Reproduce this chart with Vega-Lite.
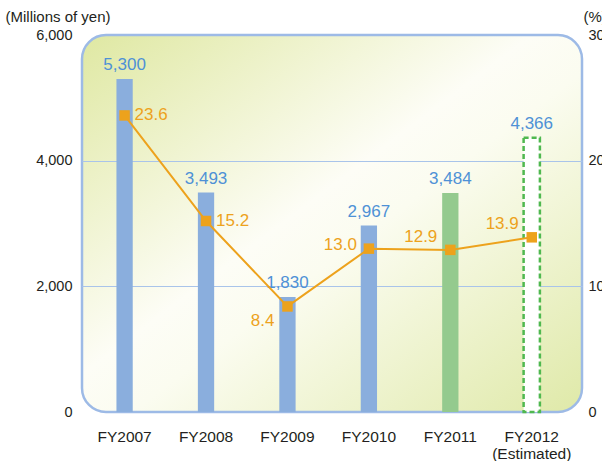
{
  "$schema": "https://vega.github.io/schema/vega-lite/v6.json",
  "width": 500,
  "height": 377,
  "autosize": "none",
  "padding": {"left": 82, "top": 35, "right": 20, "bottom": 49},
  "background": "white",
  "config": {
    "font": "Liberation Sans",
    "view": {
      "fill": {"gradient": "linear", "x1": 0, "y1": 0, "x2": 1, "y2": 1,
        "stops": [
          {"offset": 0, "color": "#dfe8a2"},
          {"offset": 0.45, "color": "#fdfdf6"},
          {"offset": 0.55, "color": "#fbfcf0"},
          {"offset": 1, "color": "#dfe9a8"}
        ]},
      "stroke": "#9dbae6",
      "strokeWidth": 2.5,
      "cornerRadius": 24
    },
    "axis": {"labelFont": "Liberation Sans", "titleFont": "Liberation Sans", "labelColor": "#231f20", "titleColor": "#231f20"}
  },
  "data": {"values": [
    {"year": "FY2007", "sales": 5300, "kind": "actual", "pct": 23.6},
    {"year": "FY2008", "sales": 3493, "kind": "actual", "pct": 15.2},
    {"year": "FY2009", "sales": 1830, "kind": "actual", "pct": 8.4},
    {"year": "FY2010", "sales": 2967, "kind": "actual", "pct": 13.0},
    {"year": "FY2011", "sales": 3484, "kind": "current", "pct": 12.9},
    {"year": "FY2012", "sales": 4366, "kind": "estimated", "pct": 13.9}
  ]},
  "encoding": {
    "x": {"field": "year", "type": "nominal", "sort": null,
      "scale": {"paddingInner": 0.8, "paddingOuter": 0.47, "align": 0.45},
      "axis": {"title": null, "domain": false, "ticks": false, "labelAngle": 0, "labelFontSize": 15.5, "labelPadding": 17, "labelLineHeight": 17,
        "labelExpr": "datum.value == 'FY2012' ? ['FY2012', '(Estimated)'] : datum.value"}}
  },
  "layer": [
    {
      "layer": [
        {
          "transform": [{"filter": "datum.kind != 'estimated'"}],
          "mark": {"type": "bar"},
          "encoding": {
            "y": {"field": "sales", "type": "quantitative",
              "scale": {"domain": [0, 6000]},
              "axis": {"values": [0, 2000, 4000, 6000], "labelExpr": "format(datum.value, ',')", "title": "(Millions of yen)", "titleAngle": 0, "titleAlign": "left", "titleBaseline": "middle", "titleX": -77, "titleY": -19, "titleFontSize": 15, "titleFontWeight": "normal",
                "domain": false, "ticks": false, "labelFontSize": 14.5, "labelPadding": 10,
                "grid": true, "gridColor": "#a9c4ea", "gridWidth": 1.2,
                "gridOpacity": {"condition": {"test": "datum.value == 2000 || datum.value == 4000", "value": 1}, "value": 0}}},
            "color": {"field": "kind", "type": "nominal", "scale": {"domain": ["actual", "current"], "range": ["#8aaedd", "#94ca8e"]}, "legend": null}
          }
        },
        {
          "transform": [{"filter": "datum.kind == 'estimated'"}],
          "mark": {"type": "bar", "fill": "white", "stroke": "#4fb84f", "strokeWidth": 2.5, "strokeDash": [5, 3]},
          "encoding": {"y": {"field": "sales", "type": "quantitative"}}
        },
        {
          "mark": {"type": "text", "baseline": "bottom", "dy": -5, "fontSize": 17, "color": "#4e91d6"},
          "encoding": {
            "y": {"field": "sales", "type": "quantitative"},
            "text": {"field": "sales", "type": "quantitative", "format": ","}
          }
        }
      ]
    },
    {
      "layer": [
        {
          "mark": {"type": "line", "color": "#eda21c", "strokeWidth": 2},
          "encoding": {
            "y": {"field": "pct", "type": "quantitative", "scale": {"domain": [0, 30]},
              "axis": {"orient": "right", "values": [0, 10, 20, 30], "title": "(%)", "titleAngle": 0, "titleAlign": "left", "titleBaseline": "middle", "titleX": 1, "titleY": -19, "titleFontSize": 15, "titleFontWeight": "normal",
                "domain": false, "ticks": false, "grid": false, "labelFontSize": 14.5, "labelPadding": 6}}
          }
        },
        {
          "mark": {"type": "point", "shape": "square", "filled": true, "size": 110, "color": "#eda21c", "opacity": 1},
          "encoding": {"y": {"field": "pct", "type": "quantitative"}}
        },
        {
          "transform": [{"filter": "datum.year == 'FY2007' || datum.year == 'FY2008'"}],
          "mark": {"type": "text", "align": "left", "baseline": "middle", "dx": 10, "fontSize": 17, "color": "#eda21c"},
          "encoding": {"y": {"field": "pct", "type": "quantitative"}, "text": {"field": "pct", "type": "quantitative", "format": ".1f"}}
        },
        {
          "transform": [{"filter": "datum.year == 'FY2009'"}],
          "mark": {"type": "text", "align": "right", "baseline": "middle", "dx": -13, "dy": 15, "fontSize": 17, "color": "#eda21c"},
          "encoding": {"y": {"field": "pct", "type": "quantitative"}, "text": {"field": "pct", "type": "quantitative", "format": ".1f"}}
        },
        {
          "transform": [{"filter": "datum.year == 'FY2010'"}],
          "mark": {"type": "text", "align": "right", "baseline": "middle", "dx": -12, "dy": -4, "fontSize": 17, "color": "#eda21c"},
          "encoding": {"y": {"field": "pct", "type": "quantitative"}, "text": {"field": "pct", "type": "quantitative", "format": ".1f"}}
        },
        {
          "transform": [{"filter": "datum.year == 'FY2011' || datum.year == 'FY2012'"}],
          "mark": {"type": "text", "align": "right", "baseline": "middle", "dx": -13, "dy": -13, "fontSize": 17, "color": "#eda21c"},
          "encoding": {"y": {"field": "pct", "type": "quantitative"}, "text": {"field": "pct", "type": "quantitative", "format": ".1f"}}
        }
      ]
    }
  ],
  "resolve": {"scale": {"y": "independent"}, "axis": {"y": "independent"}}
}
